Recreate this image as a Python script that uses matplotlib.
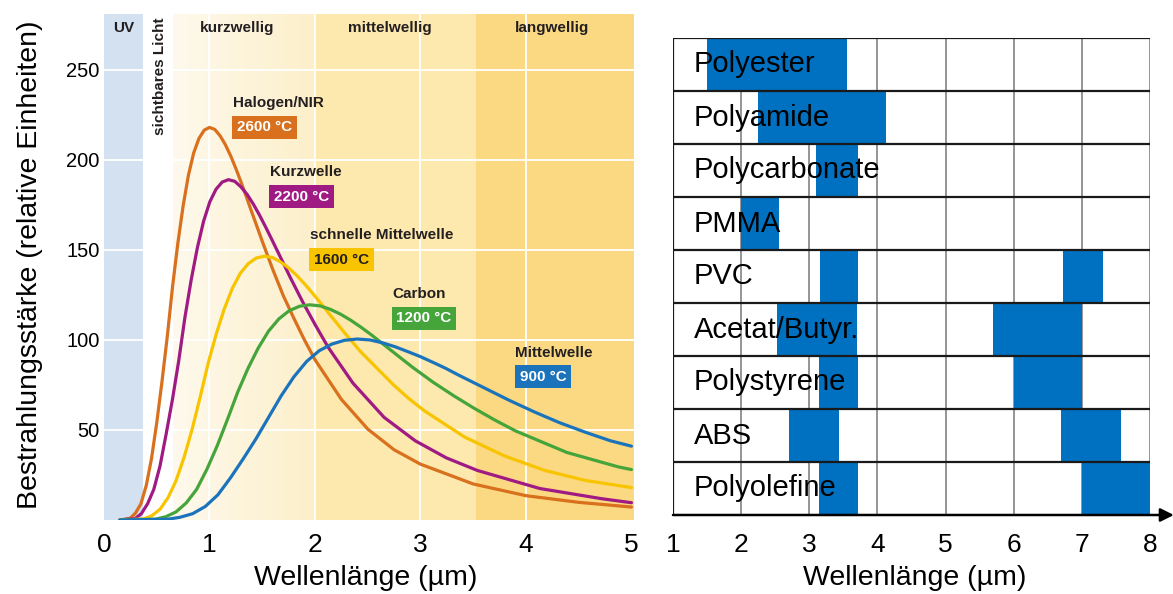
import numpy as np
import matplotlib.pyplot as plt
from matplotlib.colors import LinearSegmentedColormap

plt.rcParams['font.family'] = ['Liberation Sans', 'DejaVu Sans']

# --- Strahler-Kurven ---
x_halogen = [0.15, 0.25, 0.3, 0.35, 0.4, 0.45, 0.5, 0.55, 0.6, 0.65,
             0.7, 0.75, 0.8, 0.85, 0.9, 0.95, 1.0, 1.05, 1.1, 1.15,
             1.2, 1.25, 1.3, 1.35, 1.4, 1.45, 1.5, 1.6, 1.7, 1.8,
             1.9, 2.0, 2.25, 2.5, 2.75, 3.0, 3.5, 4.0, 4.5, 5.0]
y_halogen = [0, 1, 4, 9, 19, 34, 54, 77, 102, 129.7,
             153.7, 174.4, 191.4, 203.8, 211.9, 216.5, 218, 216.9, 213.4, 208.5,
             202.3, 195.2, 187.5, 179.4, 171.1, 163, 154.8, 139.1, 124.5, 112,
             100, 89, 67, 50.5, 39, 31, 20, 13.5, 9.8, 7.2]

x_kurz = [0.15, 0.295, 0.354, 0.413, 0.472, 0.531, 0.59, 0.649, 0.708, 0.767,
          0.826, 0.885, 0.944, 1.003, 1.062, 1.121, 1.18, 1.239, 1.298, 1.357,
          1.416, 1.475, 1.534, 1.593, 1.652, 1.77, 1.888, 2.006, 2.124, 2.242,
          2.36, 2.655, 2.95, 3.245, 3.54, 4.13, 4.72, 5.0]
y_kurz = [0, 0.8, 3.5, 9, 17, 30, 48, 67, 88.3, 112.5,
          133.2, 151.2, 165.9, 176.7, 183.7, 187.7, 189, 188.1, 185, 180.8,
          175.4, 169.2, 162.5, 155.5, 148.4, 134.2, 120.6, 108, 96, 86,
          76, 57, 44, 34.5, 27.5, 17.5, 11.8, 9.6]

x_schnell = [0.15, 0.38, 0.456, 0.532, 0.608, 0.684, 0.76, 0.836, 0.912, 0.988,
             1.064, 1.14, 1.216, 1.292, 1.368, 1.444, 1.52, 1.596, 1.672, 1.748,
             1.824, 1.9, 1.976, 2.052, 2.128, 2.204, 2.28, 2.432, 2.584, 2.736,
             2.888, 3.04, 3.42, 3.8, 4.18, 4.56, 5.0]
y_schnell = [0, 0.6, 2.5, 6, 12.5, 22, 35, 50.5, 68.4, 87.2,
             103.3, 117.2, 128.6, 137, 142.4, 145.5, 146.5, 145.8, 143.4, 140.1,
             136, 131.2, 126, 120.6, 115, 109.5, 104, 93.5, 84.5, 75.5,
             67.5, 60.5, 46, 35.5, 27.5, 22, 18]

x_carbon = [0.15, 0.49, 0.585, 0.683, 0.78, 0.878, 0.975, 1.073, 1.17, 1.268,
            1.365, 1.463, 1.56, 1.658, 1.755, 1.853, 1.95, 2.048, 2.145, 2.2425,
            2.34, 2.4375, 2.535, 2.6325, 2.73, 2.8275, 2.925, 3.12, 3.315, 3.51,
            3.705, 3.9, 4.144, 4.388, 4.875, 5.0]
y_carbon = [0, 0.5, 1.8, 4.5, 9.5, 17, 28.1, 41.2, 55.8, 71.1,
            84.2, 95.6, 104.9, 111.7, 116.2, 118.7, 119.5, 118.9, 117, 114.3,
            110.9, 107, 102.8, 98.3, 93.8, 89.3, 84.8, 76.5, 69, 62,
            55.5, 49.5, 43.5, 37.5, 29.5, 28]

x_mittel = [0.15, 0.6, 0.72, 0.84, 0.96, 1.08, 1.2, 1.32, 1.44, 1.56,
            1.68, 1.8, 1.92, 2.04, 2.16, 2.28, 2.4, 2.52, 2.64, 2.76,
            2.88, 3.0, 3.12, 3.24, 3.36, 3.48, 3.6, 3.84, 4.08, 4.32,
            4.56, 4.8, 5.0]
y_mittel = [0, 0.4, 1.5, 3.5, 7.5, 14, 23.5, 34, 45, 57,
            69, 79.5, 88, 94, 97.7, 99.8, 100.5, 100, 98.4, 96.2,
            93.5, 90.7, 87.5, 84.2, 80.5, 77, 73.5, 66.5, 60, 54,
            48.8, 44, 41]

curve_names = ["Halogen/NIR", "Kurzwelle", "schnelle Mittelwelle", "Carbon", "Mittelwelle"]
curve_temps = ["2600 °C", "2200 °C", "1600 °C", "1200 °C", "900 °C"]
curve_colors = ["#d8701d", "#a01a84", "#f8c400", "#45a43a", "#1b74bb"]
label_pos = [(1.22, 231.5), (1.57, 193), (1.95, 158), (2.73, 125.5), (3.9, 93)]

# --- Kunststoffe: Absorptionsbereiche (µm) ---
materials = ["Polyester", "Polyamide", "Polycarbonate", "PMMA", "PVC",
             "Acetat/Butyr.", "Polystyrene", "ABS", "Polyolefine"]
absorb = [[(1.5, 3.55)],
          [(2.25, 4.13)],
          [(3.1, 3.72)],
          [(2.0, 2.55)],
          [(3.15, 3.72), (6.73, 7.31)],
          [(2.52, 3.7), (5.7, 7.0)],
          [(3.14, 3.72), (6.0, 7.0)],
          [(2.7, 3.43), (6.7, 7.58)],
          [(3.14, 3.72), (7.0, 8.0)]]

W, H = 1173, 594
fig = plt.figure(figsize=(W / 100, H / 100), dpi=100)

# ---------- linkes Diagramm ----------
ax1 = fig.add_axes([104 / W, 74 / H, 530 / W, 506 / H])
XMAX, YMAX = 5.024, 281
ax1.set_xlim(0, XMAX)
ax1.set_ylim(0, YMAX)

# Hintergrund-Bereiche
ax1.axvspan(0, 0.37, color='#d3e1f1', lw=0, zorder=0)
grad = LinearSegmentedColormap.from_list('kurz', ['#fef9ec', '#fcefca'])
ax1.imshow(np.linspace(0, 1, 100).reshape(1, -1), cmap=grad, aspect='auto',
           extent=(0.655, 2.0, 0, YMAX), zorder=0)
ax1.axvspan(2.0, 3.53, color='#fde8ae', lw=0, zorder=0)
ax1.axvspan(3.53, XMAX, color='#fbd982', lw=0, zorder=0)

for v in [1, 2, 3, 4]:
    ax1.axvline(v, color='white', lw=1.3, zorder=1)
for h in [50, 100, 150, 200, 250]:
    ax1.axhline(h, color='white', lw=1.3, zorder=1)

curves = [(x_halogen, y_halogen), (x_kurz, y_kurz), (x_schnell, y_schnell),
          (x_carbon, y_carbon), (x_mittel, y_mittel)]
for (xs, ys), c in zip(curves, curve_colors):
    ax1.plot(xs, ys, color=c, lw=2.3, zorder=3, solid_capstyle='round',
             solid_joinstyle='round')

for name, temp, c, (lx, ly) in zip(curve_names, curve_temps, curve_colors, label_pos):
    ax1.text(lx, ly, name, ha='left', va='center', fontsize=11, fontweight='bold',
             color='#231f20', zorder=4)
    tc = '#231f20' if c == "#f8c400" else 'white'
    ax1.text(lx + 0.04, ly - 13.5, temp, ha='left', va='center', fontsize=11,
             fontweight='bold', color=tc, zorder=4,
             bbox=dict(boxstyle='square,pad=0.3', fc=c, ec='none'))

hdr = dict(ha='center', va='center', fontsize=11, fontweight='bold',
           color='#231f20', zorder=4)
ax1.text(0.19, 273, "UV", **hdr)
ax1.text(1.26, 273, "kurzwellig", **hdr)
ax1.text(2.71, 273, "mittelwellig", **hdr)
ax1.text(4.25, 273, "langwellig", **hdr)
ax1.text(0.53, 279, "sichtbares Licht", rotation=90, ha='center', va='top', fontsize=11,
         fontweight='bold', color='#231f20', zorder=4)

for s in ax1.spines.values():
    s.set_visible(False)
ax1.set_xticks([0, 1, 2, 3, 4, 5])
ax1.set_yticks([50, 100, 150, 200, 250])
ax1.tick_params(axis='x', length=0, labelsize=19, pad=9)
ax1.tick_params(axis='y', length=0, labelsize=14.5, pad=3)

fig.text(30 / W, 1 - 265 / H, "Bestrahlungsstärke (relative Einheiten)", rotation=90,
         ha='center', va='center', fontsize=20.5)
fig.text(366 / W, 1 - 578 / H, "Wellenlänge (µm)", ha='center', va='center', fontsize=20.5)

# ---------- rechtes Diagramm ----------
ax2 = fig.add_axes([673 / W, 79 / H, 477 / W, 477 / H])
ax2.set_xlim(1, 8)
ax2.set_ylim(len(materials), 0)

ax2.vlines(range(2, 9), 0, len(materials), color='#8c8c8c', lw=1.3, zorder=1)
for i, ranges in enumerate(absorb):
    ax2.broken_barh([(a, b - a) for a, b in ranges], (i, 1), facecolors='#0070c0',
                    edgecolor='none', zorder=2)
ax2.hlines(range(0, len(materials)), 1, 8, color='#1a1a1a', lw=1.6, zorder=3)
ax2.vlines(1, 0, len(materials), color='#1a1a1a', lw=1.6, zorder=3)
for i, name in enumerate(materials):
    ax2.text(1.31, i + 0.5, name, ha='left', va='center', fontsize=21, color='black', zorder=4)

ax2.annotate('', xy=(1.05, 0), xytext=(0, 0), xycoords='axes fraction',
             arrowprops=dict(arrowstyle='-|>', color='black', lw=1.8, mutation_scale=20,
                             shrinkA=0, shrinkB=0), annotation_clip=False)

for s in ax2.spines.values():
    s.set_visible(False)
ax2.set_xticks(range(1, 9))
ax2.set_yticks([])
ax2.tick_params(axis='x', length=0, labelsize=19, pad=13)

fig.text(915 / W, 1 - 578 / H, "Wellenlänge (µm)", ha='center', va='center', fontsize=20.5)

fig.savefig('out.png', dpi=100)
